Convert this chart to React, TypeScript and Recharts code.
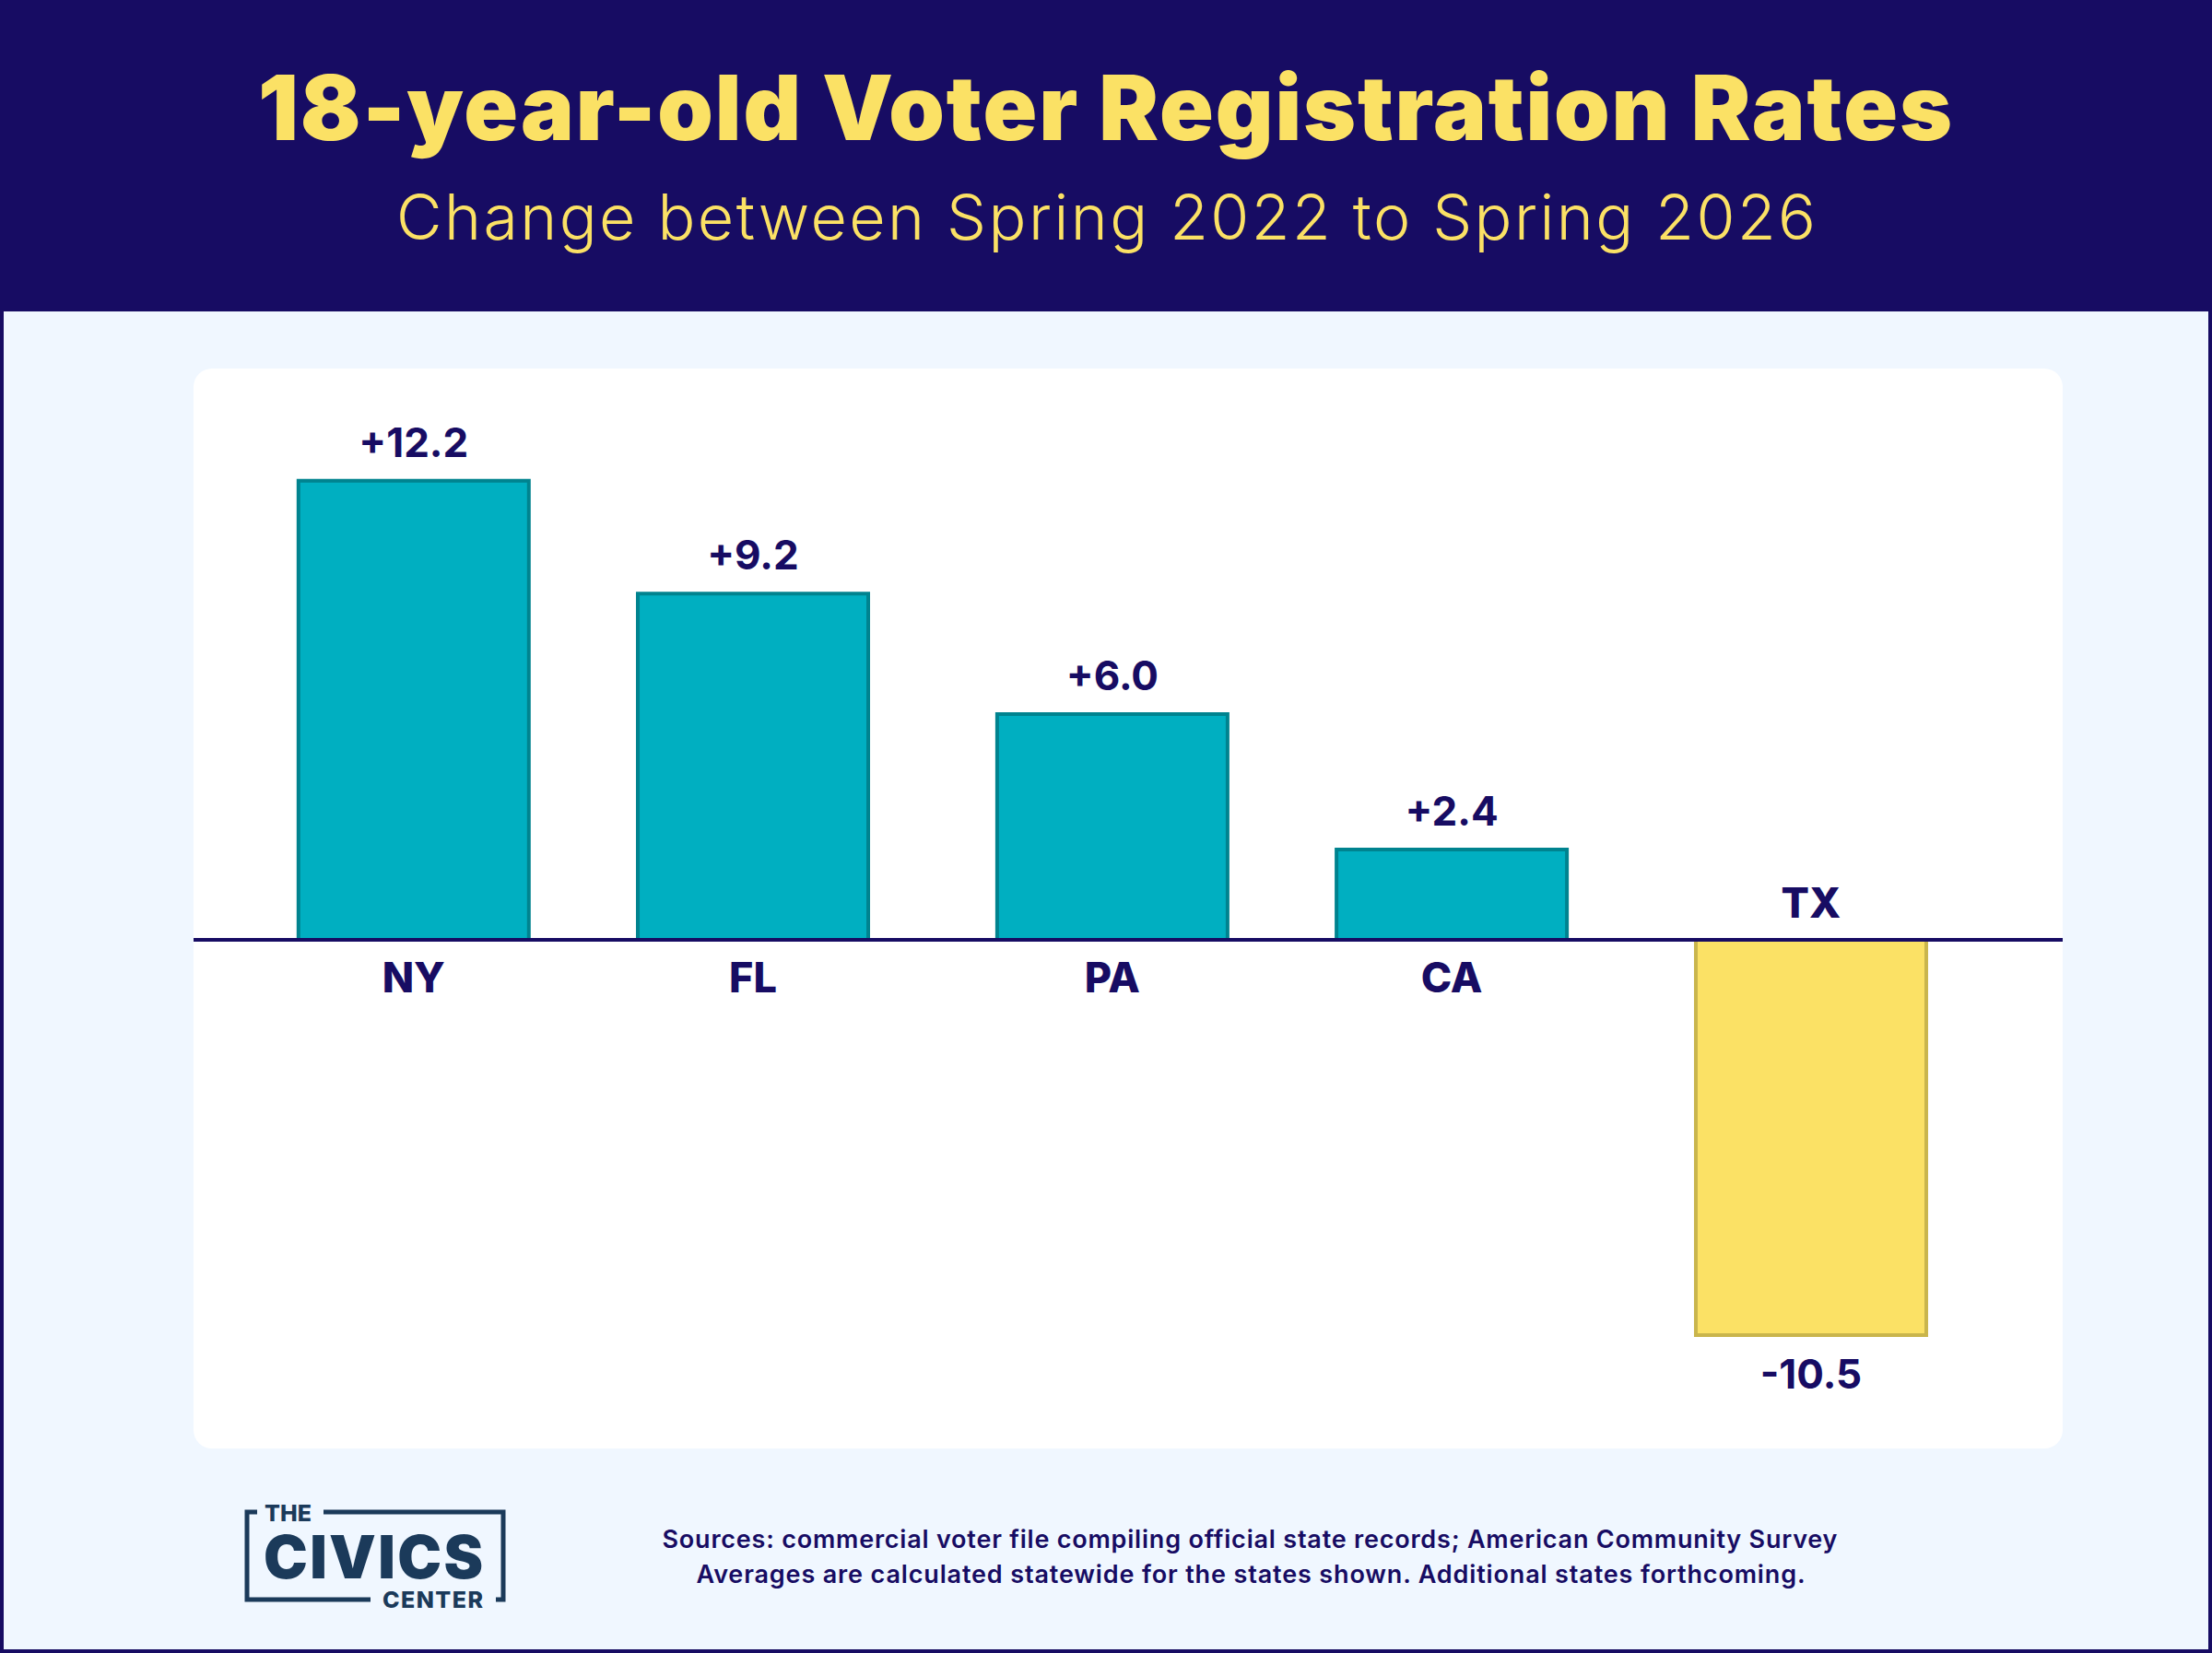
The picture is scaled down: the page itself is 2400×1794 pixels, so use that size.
import { BarChart, Bar, Cell, XAxis, YAxis, ReferenceLine, LabelList } from "recharts";

const states = ["NY", "FL", "PA", "CA", "TX"];
const changes = [12.2, 9.2, 6.0, 2.4, -10.5];
// the bars are not evenly spaced in the original, so x is a small numeric slot
const slots = [0, 17, 35, 52, 70];

const NAVY = "#170C63";
const YELLOW = "#FBE165";
const LOGO = "#1B3A5A";
const FONT = "Inter, sans-serif";

const data = states.map((state, i) => ({ state, slot: slots[i], change: changes[i] }));

function fmt(v: number) {
  return v > 0 ? `+${v.toFixed(1)}` : v.toFixed(1);
}

function ValueLabel(props: any) {
  const { x, y, width, height, value } = props;
  const top = Math.min(y, y + height);
  const bottom = Math.max(y, y + height);
  const ty = value >= 0 ? top - 26 : bottom + 58;
  return (
    <text x={x + width / 2} y={ty} textAnchor="middle" fontFamily={FONT} fontWeight={700} fontSize={44} fill={NAVY}>
      {fmt(value)}
    </text>
  );
}

function StateLabel(props: any) {
  const { x, y, width, height, index } = props;
  const top = Math.min(y, y + height);
  const bottom = Math.max(y, y + height);
  const neg = changes[index] < 0;
  return (
    <text x={x + width / 2} y={neg ? top - 24 : bottom + 57} textAnchor="middle" fontFamily={FONT} fontWeight={800} fontSize={45} fill={NAVY}>
      {states[index]}
    </text>
  );
}

function Backdrop() {
  return (
    <svg width={2400} height={1794} style={{ position: "absolute", left: 0, top: 0 }}>
      <rect x={0} y={0} width={2400} height={1794} fill={NAVY} />
      <rect x={4} y={338} width={2392} height={1452} fill="#F0F7FF" />
      <rect x={210} y={400} width={2028} height={1172} rx={20} fill="#FFFFFF" />
      <text x={1199} y={152} textAnchor="middle" fontFamily={FONT} fontWeight={900} fontSize={97} fill={YELLOW} textLength={1838}>
        18-year-old Voter Registration Rates
      </text>
      <text x={1200} y={260} textAnchor="middle" fontFamily={FONT} fontWeight={300} fontSize={68} fill={YELLOW} textLength={1540}>
        Change between Spring 2022 to Spring 2026
      </text>
      <text x={1356} y={1680} textAnchor="middle" fontFamily={FONT} fontWeight={600} fontSize={27} fill={NAVY} textLength={1275}>
        Sources: commercial voter file compiling official state records; American Community Survey
      </text>
      <text x={1357} y={1718} textAnchor="middle" fontFamily={FONT} fontWeight={600} fontSize={27} fill={NAVY} textLength={1203}>
        Averages are calculated statewide for the states shown. Additional states forthcoming.
      </text>
      {/* logo */}
      <path
        d="M279 1641 H268 V1736 H402 M351 1641 H546 V1736 H538"
        fill="none"
        stroke={LOGO}
        strokeWidth={5}
      />
      <text x={287} y={1651} fontFamily={FONT} fontWeight={800} fontSize={25} fill={LOGO} textLength={51}>THE</text>
      <text x={286} y={1713} fontFamily={FONT} fontWeight={900} fontSize={64} fill={LOGO} textLength={238}>CIVICS</text>
      <text x={415} y={1745} fontFamily={FONT} fontWeight={800} fontSize={25} fill={LOGO} textLength={109}>CENTER</text>
    </svg>
  );
}

export default function App() {
  return (
    <div style={{ position: "absolute", left: 0, top: 0, width: 2400, height: 1794, overflow: "hidden" }}>
      <Backdrop />
      <div style={{ position: "absolute", left: 210, top: 400 }}>
        <BarChart width={2028} height={1172} data={data} margin={{ top: 0, right: 0, bottom: 0, left: 0 }}>
          <XAxis dataKey="slot" type="number" domain={[-11.03, 82.6]} hide />
          <YAxis type="number" domain={[-13.51, 15.18]} hide />
          <Bar dataKey="change" barSize={250} strokeWidth={4} isAnimationActive={false}>
            {changes.map((v, i) => (
              <Cell key={states[i]} fill={v >= 0 ? "#00AFC1" : YELLOW} stroke={v >= 0 ? "#00838F" : "#C9B54C"} />
            ))}
            <LabelList dataKey="change" content={ValueLabel} />
            <LabelList dataKey="state" content={StateLabel} />
          </Bar>
          <ReferenceLine y={0} stroke={NAVY} strokeWidth={4} />
        </BarChart>
      </div>
    </div>
  );
}
